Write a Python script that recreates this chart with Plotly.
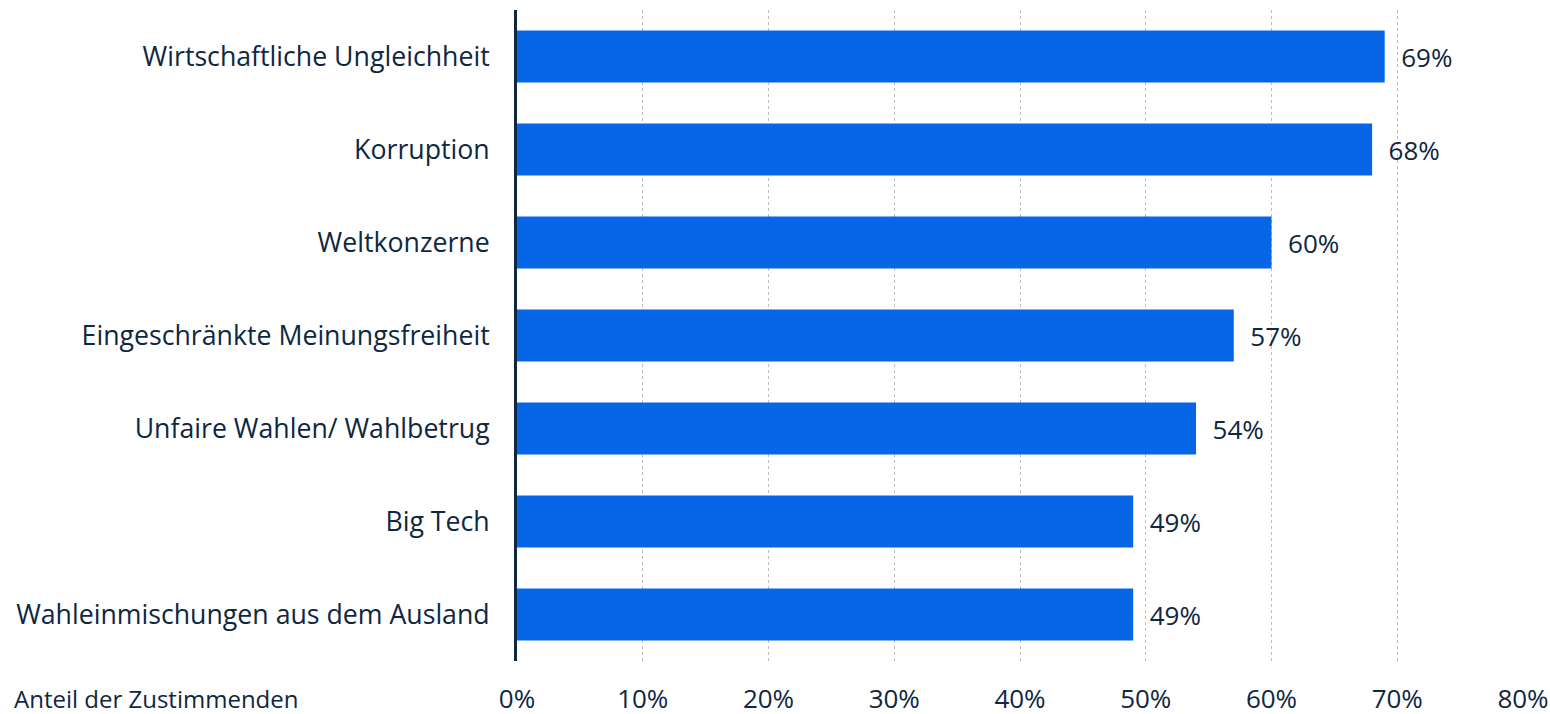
import plotly.graph_objects as go

categories = [
    "Wirtschaftliche Ungleichheit",
    "Korruption",
    "Weltkonzerne",
    "Eingeschränkte Meinungsfreiheit",
    "Unfaire Wahlen/ Wahlbetrug",
    "Big Tech",
    "Wahleinmischungen aus dem Ausland",
]
values = [69, 68, 60, 57, 54, 49, 49]
tick_vals = [0, 10, 20, 30, 40, 50, 60, 70, 80]
tick_text = ["0%", "10%", "20%", "30%", "40%", "50%", "60%", "70%", "80%"]
x_title = "Anteil der Zustimmenden"

text_color = "#0f2741"
bar_color = "#0766e6"
font_family = "Open Sans"
fs = 26

fig = go.Figure(go.Bar(
    x=values,
    y=categories,
    orientation="h",
    marker=dict(color=bar_color, line=dict(width=0)),
    text=[f"\u00a0\u00a0{v}%" for v in values],
    textposition="outside",
    textfont=dict(family=font_family, size=fs, color=text_color),
    cliponaxis=False,
))

W, H = 1550, 714
ml, mr, mt, mb = 517, 27, 10, 53
fig.update_layout(
    width=W, height=H,
    margin=dict(l=ml, r=mr, t=mt, b=mb),
    plot_bgcolor="white", paper_bgcolor="white",
    bargap=0.44,
    showlegend=False,
    font=dict(family=font_family, size=fs, color=text_color),
    xaxis=dict(
        range=[0, 80],
        tickvals=tick_vals,
        ticktext=tick_text,
        showgrid=True,
        gridcolor="#bdbdbd",
        gridwidth=1,
        griddash="dot",
        zeroline=False,
        showline=False,
        ticks="",
        ticklabelstandoff=20,
        tickfont=dict(family=font_family, size=fs, color=text_color),
        fixedrange=True,
        automargin=False,
    ),
    yaxis=dict(
        categoryorder="array",
        categoryarray=categories[::-1],
        showline=True,
        linecolor=text_color,
        linewidth=3,
        showgrid=False,
        zeroline=False,
        ticks="",
        ticklabelstandoff=19,
        tickfont=dict(family=font_family, size=26.7, color=text_color),
        automargin=False,
    ),
    annotations=[dict(
        text=x_title,
        xref="paper", yref="paper",
        x=(12 - ml) / (W - ml - mr),
        y=-(698 - (H - mb)) / (H - mt - mb),
        xanchor="left", yanchor="middle",
        showarrow=False,
        font=dict(family=font_family, size=24, color=text_color),
    )],
)

fig.write_html("out.html")
